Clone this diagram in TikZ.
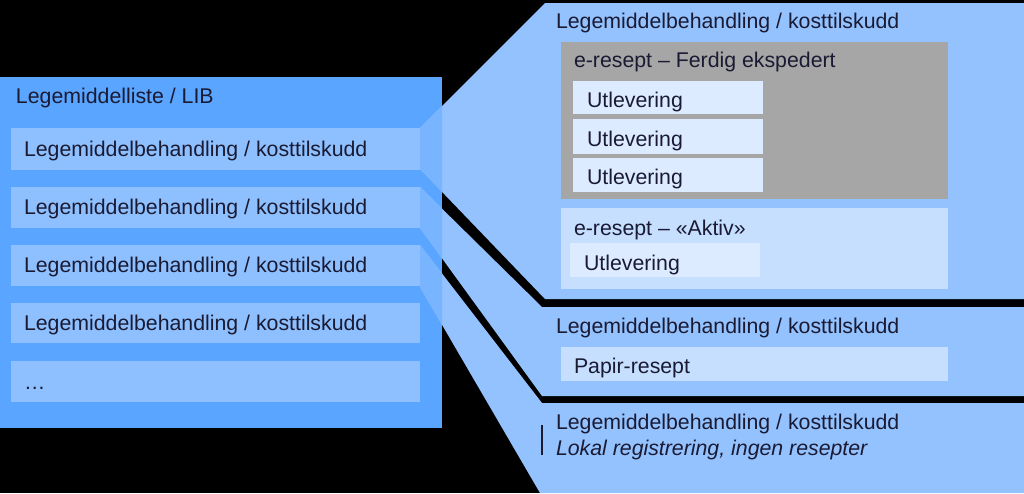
\documentclass[tikz,border=0pt]{standalone}
\usepackage{fontspec}
\setmainfont{Liberation Sans}
\definecolor{bg}{HTML}{000000}
\definecolor{boxc}{HTML}{5AA5FF}
\definecolor{rowc}{HTML}{8EC0FF}
\definecolor{panelc}{HTML}{93C2FF}
\definecolor{midc}{HTML}{79B5FF}
\definecolor{greyc}{HTML}{A6A6A6}
\definecolor{utc}{HTML}{DCEBFF}
\definecolor{actc}{HTML}{C6DFFF}
\definecolor{ink}{HTML}{1A1A33}
\tikzset{
  txt/.style={anchor=base west, inner sep=0pt, outer sep=0pt, font=\fontsize{21.3}{25}\selectfont, text=ink},
  itxt/.style={txt, font=\fontsize{21.3}{25}\selectfont\itshape},
}
\newcommand{\funA}{(420,128) -- (545,3) -- (1024,3) -- (1024,299) -- (545,299) -- (420,169) -- cycle}
\newcommand{\funB}{(420,187) -- (542,307) -- (1024,307) -- (1024,396) -- (542,396) -- (420,228) -- cycle}
\newcommand{\funC}{(420,245) -- (542,403) -- (1024,403) -- (1024,493) -- (540,493) -- (420,287) -- cycle}
\begin{document}
\begin{tikzpicture}[x=1pt,y=-1pt]
\fill[bg] (0,0) rectangle (1024,493);
\useasboundingbox (0,0) rectangle (1024,493);
% left box
\fill[boxc] (0,77) rectangle (442,428);
\fill[rowc] (11,128) rectangle (420,170);
\fill[rowc] (11,187) rectangle (420,228);
\fill[rowc] (11,245) rectangle (420,286);
\fill[rowc] (11,303) rectangle (420,343);
\fill[rowc] (11,361) rectangle (420,402);
% funnels / panels
\fill[panelc] \funA;
\fill[panelc] \funB;
\fill[panelc] \funC;
\begin{scope}
  \clip (420,0) rectangle (442,493);
  \fill[midc] \funA;
  \fill[midc] \funB;
  \fill[midc] \funC;
\end{scope}
% left texts
\node[txt] (lib) at (16,103) {Legemiddelliste / LIB};
\node[txt] (r1) at (24,156) {Legemiddelbehandling / kosttilskudd};
\node[txt] (r2) at (24,214) {Legemiddelbehandling / kosttilskudd};
\node[txt] (r3) at (24,272) {Legemiddelbehandling / kosttilskudd};
\node[txt] (r4) at (24,330) {Legemiddelbehandling / kosttilskudd};
\node[txt] (r5) at (24,389) {…};
% panel 1
\node[txt] (p1) at (556,28) {Legemiddelbehandling / kosttilskudd};
\fill[greyc] (561,42) rectangle (948,199);
\node[txt] (fe) at (574,67) {e-resept – Ferdig ekspedert};
\fill[utc] (573,81) rectangle (763,114);
\fill[utc] (573,119) rectangle (763,154);
\fill[utc] (573,158) rectangle (763,192);
\node[txt] (u1) at (587,107) {Utlevering};
\node[txt] (u2) at (587,146) {Utlevering};
\node[txt] (u3) at (587,184) {Utlevering};
\fill[actc] (561,208) rectangle (948,289);
\node[txt] (ak) at (574,235) {e-resept – «Aktiv»};
\fill[utc] (570,243) rectangle (760,277);
\node[txt] (u4) at (584,270) {Utlevering};
% panel 2
\node[txt] (p2) at (556,333) {Legemiddelbehandling / kosttilskudd};
\fill[actc] (561,347) rectangle (948,381);
\node[txt] (pr) at (574,373) {Papir-resept};
% panel 3
\node[txt] (p3) at (556,429) {Legemiddelbehandling / kosttilskudd};
\node[itxt] (lr) at (556,455) {Lokal registrering, ingen resepter};
\draw[ink, line width=1.2pt] (542,425) -- (542,455);
\end{tikzpicture}
\end{document}
